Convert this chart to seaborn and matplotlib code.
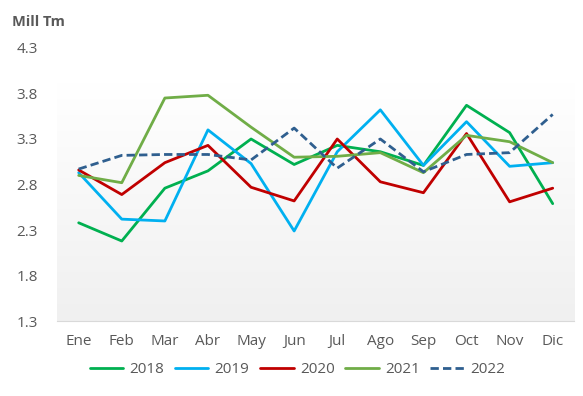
import numpy as np
import pandas as pd
import matplotlib
matplotlib.use("Agg")
import matplotlib.pyplot as plt
import seaborn as sns

sns.set_style("white")
plt.rcParams['font.family'] = ['Open Sans', 'DejaVu Sans']

months = ["Ene", "Feb", "Mar", "Abr", "May", "Jun", "Jul", "Ago", "Sep", "Oct", "Nov", "Dic"]
y2018 = [2.38, 2.18, 2.76, 2.95, 3.30, 3.02, 3.23, 3.16, 3.01, 3.67, 3.37, 2.59]
y2019 = [2.93, 2.42, 2.40, 3.40, 3.03, 2.29, 3.16, 3.62, 3.01, 3.49, 3.00, 3.04]
y2020 = [2.96, 2.69, 3.04, 3.23, 2.77, 2.62, 3.30, 2.83, 2.71, 3.36, 2.61, 2.76]
y2021 = [2.90, 2.82, 3.75, 3.78, 3.43, 3.10, 3.11, 3.15, 2.93, 3.34, 3.27, 3.04]
y2022 = [2.97, 3.12, 3.13, 3.13, 3.07, 3.42, 2.98, 3.30, 2.94, 3.13, 3.15, 3.57]

series = {"2018": y2018, "2019": y2019, "2020": y2020, "2021": y2021, "2022": y2022}
colors = {"2018": "#00B050", "2019": "#00B0F0", "2020": "#C00000", "2021": "#70AD47", "2022": "#2F5F8F"}

fig = plt.figure(figsize=(5.83, 3.96), dpi=100)
ax = fig.add_axes([0.098, 0.189, 0.887, 0.69])

# soft gradient behind the lines: white at top, light grey at the bottom
grad = np.linspace(0, 1, 100).reshape(-1, 1)
cmap = matplotlib.colors.LinearSegmentedColormap.from_list("g", ["#FFFFFF", "#F0F0F0"])
ax.imshow(grad, cmap=cmap, aspect="auto", extent=(-0.5, 11.5, 1.3, 3.92), zorder=0)

x = np.arange(len(months))
for name, vals in series.items():
    sns.lineplot(x=x, y=vals, ax=ax, color=colors[name], linewidth=2.0,
                 linestyle=(0, (3, 1.5)) if name == "2022" else "-", label=name, zorder=3)

ax.set_xlim(-0.5, 11.5)
ax.set_ylim(1.3, 4.3)
ax.set_yticks([1.3, 1.8, 2.3, 2.8, 3.3, 3.8, 4.3])
ax.set_yticklabels(["1.3", "1.8", "2.3", "2.8", "3.3", "3.8", "4.3"])
ax.set_xticks(x)
ax.set_xticklabels(months)
ax.tick_params(axis="both", length=0, labelsize=11, labelcolor="#595959")
ax.tick_params(axis="x", pad=9)
ax.tick_params(axis="y", pad=14)
for s in ["top", "right", "left"]:
    ax.spines[s].set_visible(False)
ax.spines["bottom"].set_color("#D9D9D9")
ax.set_xlabel("")
ax.set_ylabel("")

fig.text(0.02, 0.945, "Mill Tm", fontsize=10.5, fontweight="bold", color="#595959", va="center")

handles, labels = ax.get_legend_handles_labels()
ax.get_legend().remove()
fig.legend(handles, labels, loc="center", bbox_to_anchor=(0.51, 0.066), ncol=5, frameon=False,
           fontsize=11, labelcolor="#595959", handlelength=2.2, columnspacing=0.7, handletextpad=0.4)

fig.savefig("out.png", dpi=100)
